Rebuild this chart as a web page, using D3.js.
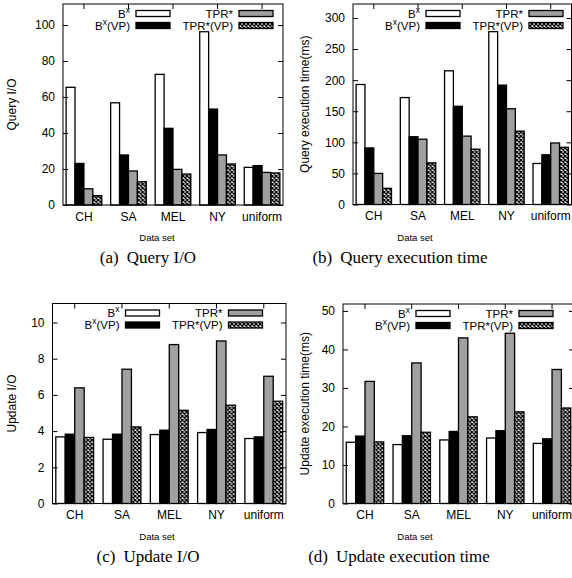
<!DOCTYPE html>
<html>
<head>
<meta charset="utf-8">
<script src="https://cdn.jsdelivr.net/npm/d3@7"></script>
<style>
  body { margin: 0; background: #fff; }
  text { font-family: "Liberation Sans", Arial, sans-serif; }
  .caption { font-family: "Liberation Serif", "Times New Roman", serif; }
</style>
</head>
<body>
<div id="chart"></div>
<script>
// data sets on the x axis
var categories = ["CH", "SA", "MEL", "NY", "uniform"];
// the four index variants (legend order)
var seriesNames = ["Bx", "Bx(VP)", "TPR*", "TPR*(VP)"];

// one row per data set, values in series order
var queryIO = [
    [65.4, 23.1, 9.0, 5.2],
    [56.8, 27.8, 18.9, 12.9],
    [72.6, 42.6, 19.8, 17.2],
    [96.3, 53.3, 27.8, 22.8],
    [20.9, 21.9, 18.1, 17.8]
];
var queryTime = [
    [193, 91, 50, 26],
    [172, 109, 105, 67],
    [215, 158, 110, 89],
    [278, 192, 154, 118],
    [66, 80, 99, 92]
];
var updateIO = [
    [3.68, 3.83, 6.39, 3.65],
    [3.55, 3.83, 7.42, 4.23],
    [3.81, 4.05, 8.78, 5.15],
    [3.92, 4.09, 8.98, 5.43],
    [3.59, 3.68, 7.03, 5.65]
];
var updateTime = [
    [15.9, 17.5, 31.7, 16.0],
    [15.3, 17.6, 36.5, 18.5],
    [16.5, 18.7, 43.0, 22.5],
    [17.0, 18.9, 44.2, 23.8],
    [15.6, 16.8, 34.8, 24.8]
];

// tick labels
var queryIOTicks = [0, 20, 40, 60, 80, 100];
var queryTimeTicks = [0, 50, 100, 150, 200, 250, 300];
var updateIOTicks = [0, 2, 4, 6, 8, 10];
var updateTimeTicks = [0, 10, 20, 30, 40, 50];

var fills = ["#fff", "#000", "#a0a0a0", "url(#xhatch)"];

var svg = d3.select("#chart").append("svg")
    .attr("width", 572)
    .attr("height", 578);

// crosshatch fill for the last series
var pat = svg.append("defs").append("pattern")
    .attr("id", "xhatch")
    .attr("width", 4)
    .attr("height", 4)
    .attr("patternUnits", "userSpaceOnUse");
pat.append("rect").attr("width", 4).attr("height", 4).attr("fill", "#fff");
pat.append("path").attr("d", "M0,0L4,4M4,0L0,4")
    .attr("stroke", "#000").attr("stroke-width", 1.3);

var panels = [
    {data: queryIO, ticks: queryIOTicks, yMax: 111.7, title: "Query I/O", tag: "(a)", caption: "Query I/O",
     left: 63, right: 283, top: 4, bottom: 205, titleX: 12, dataSetX: 157, capX: 148, capY: 263},
    {data: queryTime, ticks: queryTimeTicks, yMax: 322.5, title: "Query execution time(ms)", tag: "(b)", caption: "Query execution time",
     left: 353, right: 571.5, top: 4, bottom: 204.5, titleX: 305, dataSetX: 415, capX: 400, capY: 263},
    {data: updateIO, ticks: updateIOTicks, yMax: 11.05, title: "Update I/O", tag: "(c)", caption: "Update I/O",
     left: 52.5, right: 286, top: 303.5, bottom: 503.5, titleX: 12, dataSetX: 157, capX: 148, capY: 562},
    {data: updateTime, ticks: updateTimeTicks, yMax: 51.8, title: "Update execution time(ms)", tag: "(d)", caption: "Update execution time",
     left: 343, right: 574, top: 304, bottom: 503.5, titleX: 305, dataSetX: 415, capX: 399, capY: 562}
];

function legendLabel(sel, name) {
    // B^x gets a superscript x
    if (name.indexOf("Bx") === 0) {
        sel.append("tspan").text("B");
        sel.append("tspan").attr("font-size", 8.5).attr("dy", -5).text("x");
        sel.append("tspan").attr("dy", 5).text(name.slice(2));
    } else {
        sel.text(name);
    }
}

panels.forEach(function(p) {
    var g = svg.append("g");

    var x0 = d3.scaleBand()
        .domain(categories)
        .range([p.left, p.right])
        .paddingInner(0.2)
        .paddingOuter(0.07);
    var x1 = d3.scaleBand()
        .domain(d3.range(seriesNames.length))
        .range([0, x0.bandwidth()]);
    var y = d3.scaleLinear()
        .domain([0, p.yMax])
        .range([p.bottom, p.top]);

    // bottom ticks + labels (ticks sit under the bars)
    var xb = g.append("g")
        .attr("transform", "translate(0," + p.bottom + ")")
        .call(d3.axisBottom(x0).tickSize(-5).tickPadding(7));
    xb.select(".domain").remove();
    xb.selectAll("text").attr("font-size", 12).attr("font-family", null);

    // bars
    g.append("g").selectAll("g")
        .data(p.data)
        .enter().append("g")
        .attr("transform", function(d, i) { return "translate(" + x0(categories[i]) + ",0)"; })
        .selectAll("rect")
        .data(function(d) { return d; })
        .enter().append("rect")
        .attr("x", function(d, j) { return x1(j); })
        .attr("y", function(d) { return y(d); })
        .attr("width", x1.bandwidth())
        .attr("height", function(d) { return p.bottom - y(d); })
        .attr("fill", function(d, j) { return fills[j]; })
        .attr("stroke", "#000")
        .attr("stroke-width", 1.3);

    // left axis
    var yl = g.append("g")
        .attr("transform", "translate(" + p.left + ",0)")
        .call(d3.axisLeft(y).tickValues(p.ticks).tickSize(-5).tickPadding(8));
    yl.select(".domain").remove();
    yl.selectAll("text").attr("font-size", 12).attr("font-family", null);

    // mirrored ticks right and top
    var yr = g.append("g")
        .attr("transform", "translate(" + p.right + ",0)")
        .call(d3.axisRight(y).tickValues(p.ticks).tickSize(-5).tickFormat(""));
    yr.select(".domain").remove();
    var xt = g.append("g")
        .attr("transform", "translate(0," + p.top + ")")
        .call(d3.axisTop(x0).tickSize(-5).tickFormat(""));
    xt.select(".domain").remove();

    // frame
    g.append("rect")
        .attr("x", p.left).attr("y", p.top)
        .attr("width", p.right - p.left).attr("height", p.bottom - p.top)
        .attr("fill", "none").attr("stroke", "#000").attr("stroke-width", 1);

    // legend, two columns
    seriesNames.forEach(function(name, j) {
        var col = Math.floor(j / 2), row = j % 2;
        var textX = p.left + (col ? 170 : 67);
        var sx = p.left + (col ? 176 : 73);
        var cy = p.top + (row ? 21.5 : 9.5);
        var t = g.append("text")
            .attr("x", textX).attr("y", cy + 4)
            .attr("text-anchor", "end")
            .attr("font-size", 11.5);
        legendLabel(t, name);
        g.append("rect")
            .attr("x", sx).attr("y", cy - 3)
            .attr("width", 34).attr("height", 6)
            .attr("fill", fills[j])
            .attr("stroke", "#000").attr("stroke-width", 1.3);
    });

    // axis titles
    g.append("text")
        .attr("transform", "translate(" + p.titleX + "," + ((p.top + p.bottom) / 2) + ") rotate(-90)")
        .attr("text-anchor", "middle")
        .attr("dy", "0.35em")
        .attr("font-size", 12)
        .text(p.title);
    g.append("text")
        .attr("x", p.dataSetX).attr("y", p.bottom + 36)
        .attr("text-anchor", "middle")
        .attr("font-size", 9.5)
        .text("Data set");

    // sub-figure caption
    var cap = g.append("text")
        .attr("class", "caption")
        .attr("x", p.capX).attr("y", p.capY)
        .attr("text-anchor", "middle")
        .attr("font-size", 17);
    cap.append("tspan").text(p.tag);
    cap.append("tspan").attr("dx", 8).text(p.caption);
});
</script>
</body>
</html>
